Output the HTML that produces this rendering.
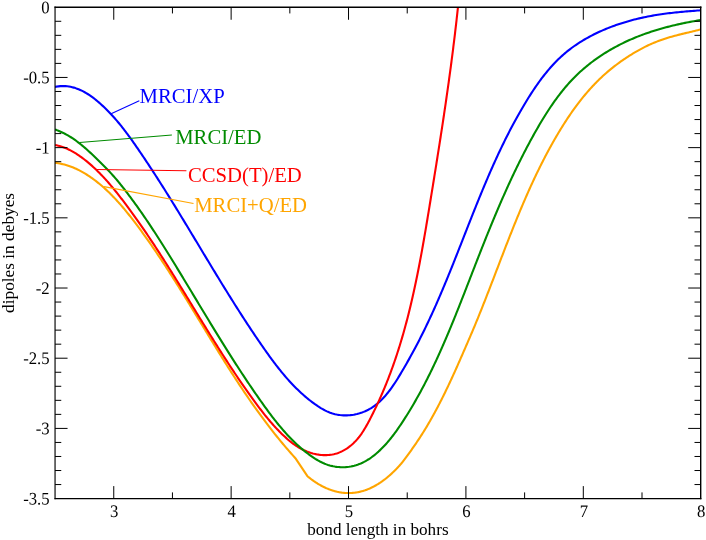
<!DOCTYPE html>
<html><head><meta charset="utf-8"><title>dipoles</title>
<style>
html,body{margin:0;padding:0;background:#fff;}
body{width:706px;height:540px;overflow:hidden;font-family:"Liberation Serif",serif;}
svg{display:block;will-change:transform;}
text{font-family:"Liberation Serif",serif;}
</style></head><body>
<svg width="706" height="540" viewBox="0 0 706 540">
<rect x="0" y="0" width="706" height="540" fill="#fff"/>
<defs><clipPath id="c"><rect x="55.05" y="7.25" width="645.6500000000001" height="491.35"/></clipPath></defs>
<g clip-path="url(#c)" fill="none" stroke-width="2.1" stroke-linejoin="round" stroke-linecap="butt">
<path stroke="#ffa500" d="M55.05,162.89 L56.65,163.08 L58.24,163.30 L59.81,163.57 L61.37,163.87 L62.91,164.21 L64.44,164.59 L65.95,165.00 L67.45,165.45 L68.93,165.93 L70.40,166.45 L71.85,166.99 L73.29,167.57 L74.71,168.18 L76.12,168.81 L77.52,169.47 L78.90,170.15 L80.27,170.87 L81.62,171.60 L82.97,172.36 L84.30,173.14 L85.62,173.93 L86.92,174.75 L88.22,175.59 L89.50,176.44 L90.77,177.31 L92.03,178.19 L93.28,179.09 L94.51,180.01 L95.74,180.94 L96.95,181.88 L98.16,182.84 L99.35,183.81 L100.54,184.79 L101.71,185.79 L102.87,186.79 L104.03,187.82 L105.17,188.85 L106.31,189.89 L107.43,190.95 L108.55,192.02 L109.66,193.10 L110.76,194.19 L111.85,195.28 L112.94,196.39 L114.01,197.51 L115.08,198.64 L116.14,199.78 L117.19,200.92 L118.24,202.08 L119.28,203.24 L120.31,204.41 L121.33,205.58 L122.35,206.77 L123.36,207.96 L124.37,209.16 L125.37,210.36 L126.36,211.57 L127.35,212.79 L128.33,214.01 L129.31,215.23 L130.28,216.46 L131.25,217.70 L132.21,218.94 L133.17,220.18 L134.13,221.43 L135.08,222.68 L136.02,223.93 L136.96,225.18 L137.90,226.44 L138.84,227.70 L139.77,228.96 L140.70,230.22 L141.62,231.49 L142.55,232.76 L143.46,234.03 L144.38,235.30 L145.29,236.57 L146.20,237.84 L147.11,239.12 L148.01,240.40 L148.91,241.68 L149.81,242.96 L150.70,244.24 L151.60,245.52 L152.49,246.81 L153.37,248.10 L154.26,249.39 L155.14,250.68 L156.02,251.97 L156.89,253.26 L157.77,254.56 L158.64,255.85 L159.51,257.15 L160.37,258.45 L161.24,259.75 L162.10,261.05 L162.96,262.36 L163.82,263.66 L164.68,264.97 L165.53,266.27 L166.38,267.58 L167.23,268.89 L168.08,270.20 L168.92,271.51 L169.77,272.82 L170.61,274.13 L171.45,275.45 L172.29,276.76 L173.13,278.08 L173.96,279.39 L174.80,280.71 L175.63,282.03 L176.46,283.35 L177.29,284.67 L178.12,285.99 L178.95,287.31 L179.77,288.63 L180.60,289.95 L181.42,291.28 L182.24,292.60 L183.06,293.92 L183.88,295.25 L184.70,296.57 L185.52,297.90 L186.34,299.23 L187.15,300.55 L187.97,301.88 L188.78,303.21 L189.60,304.54 L190.41,305.86 L191.22,307.19 L192.04,308.52 L192.85,309.85 L193.66,311.18 L194.47,312.51 L195.28,313.84 L196.09,315.17 L196.90,316.50 L197.71,317.83 L198.52,319.16 L199.32,320.49 L200.13,321.82 L200.94,323.15 L201.75,324.48 L202.56,325.81 L203.37,327.14 L204.17,328.47 L204.98,329.80 L205.79,331.13 L206.60,332.45 L207.41,333.78 L208.22,335.11 L209.03,336.44 L209.84,337.77 L210.65,339.09 L211.46,340.42 L212.27,341.75 L213.09,343.07 L213.90,344.40 L214.71,345.72 L215.53,347.05 L216.34,348.37 L217.16,349.69 L217.97,351.02 L218.79,352.34 L219.61,353.66 L220.43,354.98 L221.25,356.30 L222.07,357.62 L222.90,358.94 L223.72,360.26 L224.55,361.57 L225.37,362.89 L226.20,364.20 L227.03,365.52 L227.86,366.83 L228.69,368.14 L229.53,369.45 L230.36,370.76 L231.20,372.07 L232.04,373.38 L232.88,374.68 L233.72,375.99 L234.56,377.29 L235.41,378.60 L236.25,379.90 L237.10,381.20 L237.95,382.50 L238.81,383.80 L239.66,385.09 L240.52,386.39 L241.38,387.68 L242.24,388.97 L243.10,390.26 L243.97,391.55 L244.84,392.84 L245.71,394.13 L246.58,395.41 L247.46,396.69 L248.34,397.98 L249.22,399.25 L250.10,400.53 L250.99,401.81 L251.87,403.08 L252.77,404.36 L253.66,405.63 L254.56,406.90 L255.46,408.16 L256.36,409.43 L257.26,410.69 L258.17,411.95 L259.08,413.21 L260.00,414.47 L260.92,415.73 L261.84,416.98 L262.76,418.23 L263.69,419.48 L264.62,420.73 L265.55,421.97 L266.49,423.21 L267.43,424.45 L268.38,425.69 L269.32,426.93 L270.28,428.16 L271.23,429.39 L272.19,430.62 L273.15,431.85 L274.12,433.07 L275.09,434.30 L276.06,435.51 L277.04,436.73 L278.02,437.95 L279.01,439.16 L280.00,440.37 L280.99,441.57 L281.99,442.78 L282.99,443.98 L284.00,445.18 L285.01,446.37 L286.03,447.56 L287.05,448.75 L288.07,449.94 L289.10,451.13 L290.13,452.31 L291.17,453.49 L292.21,454.66 L293.26,455.83 L294.31,457.00 L295.37,458.17 L307.41,476.17 L307.82,476.51 L308.22,476.85 L308.64,477.19 L309.05,477.53 L309.47,477.87 L309.89,478.20 L310.32,478.53 L310.75,478.87 L311.18,479.19 L311.62,479.52 L312.05,479.84 L312.49,480.16 L312.94,480.48 L313.38,480.80 L313.83,481.11 L314.29,481.42 L314.74,481.73 L315.20,482.04 L315.66,482.34 L316.12,482.64 L316.59,482.94 L317.05,483.23 L317.52,483.52 L318.00,483.81 L318.47,484.10 L318.95,484.38 L319.43,484.66 L319.91,484.93 L320.40,485.20 L320.88,485.47 L321.37,485.74 L321.86,486.00 L322.36,486.25 L322.85,486.51 L323.35,486.76 L323.85,487.00 L324.35,487.24 L324.85,487.48 L325.36,487.72 L325.86,487.95 L326.37,488.17 L326.88,488.39 L327.39,488.61 L327.91,488.82 L328.42,489.03 L328.94,489.23 L329.45,489.43 L329.97,489.63 L330.49,489.82 L331.01,490.00 L331.54,490.18 L332.06,490.36 L332.59,490.53 L333.11,490.69 L333.64,490.85 L334.17,491.01 L334.70,491.16 L335.23,491.30 L335.76,491.44 L336.30,491.57 L336.83,491.70 L337.37,491.83 L337.90,491.94 L338.44,492.05 L338.97,492.16 L339.51,492.26 L340.05,492.35 L340.59,492.44 L341.13,492.53 L341.67,492.60 L342.21,492.67 L342.75,492.74 L343.29,492.80 L343.83,492.85 L344.37,492.90 L344.91,492.94 L345.46,492.97 L346.00,493.00 L346.54,493.03 L347.08,493.05 L347.62,493.06 L348.17,493.06 L348.71,493.06 L349.25,493.06 L349.79,493.05 L350.33,493.03 L350.87,493.01 L351.41,492.98 L351.95,492.95 L352.49,492.91 L353.03,492.86 L353.57,492.81 L354.11,492.76 L354.64,492.69 L355.18,492.62 L355.72,492.55 L356.25,492.47 L356.79,492.39 L357.32,492.29 L357.85,492.20 L358.38,492.10 L358.91,491.99 L359.44,491.87 L359.97,491.76 L360.49,491.63 L361.02,491.50 L361.54,491.36 L362.06,491.22 L362.59,491.08 L363.10,490.92 L363.62,490.77 L364.14,490.60 L364.65,490.43 L365.17,490.26 L365.68,490.08 L366.19,489.90 L366.70,489.71 L367.21,489.51 L367.71,489.31 L368.22,489.11 L368.72,488.90 L369.22,488.68 L369.72,488.47 L370.22,488.24 L370.72,488.01 L371.21,487.78 L371.71,487.54 L372.20,487.30 L372.69,487.06 L373.18,486.81 L373.66,486.55 L374.15,486.29 L374.63,486.03 L375.11,485.76 L375.59,485.49 L376.07,485.22 L376.55,484.94 L377.02,484.66 L377.49,484.37 L377.96,484.08 L378.43,483.79 L378.90,483.49 L379.36,483.19 L379.83,482.89 L380.29,482.58 L380.75,482.27 L381.21,481.96 L381.66,481.64 L382.12,481.32 L382.57,481.00 L383.02,480.67 L383.47,480.34 L383.91,480.01 L384.36,479.67 L384.80,479.34 L385.24,479.00 L385.67,478.65 L386.11,478.31 L386.54,477.96 L386.98,477.61 L387.40,477.26 L387.83,476.90 L388.26,476.54 L388.68,476.18 L389.10,475.82 L389.52,475.46 L389.94,475.09 L390.35,474.72 L390.76,474.35 L391.17,473.98 L391.58,473.61 L391.99,473.23 L392.39,472.85 L392.79,472.48 L393.19,472.10 L393.59,471.71 L393.98,471.33 L394.37,470.95 L394.76,470.56 L395.15,470.17 L395.53,469.79 L395.91,469.40 L396.29,469.01 L396.67,468.61 L397.05,468.22 L397.42,467.83 L397.79,467.44 L398.16,467.04 L398.52,466.65 L398.88,466.25 L399.25,465.85 L399.60,465.46 L399.96,465.06 L400.31,464.66 L400.66,464.26 L401.01,463.86 L401.35,463.46 L401.70,463.07 L402.04,462.67 L402.08,462.69 L403.02,461.44 L403.96,460.18 L404.90,458.92 L405.84,457.66 L406.77,456.39 L407.70,455.12 L408.62,453.85 L409.54,452.57 L410.46,451.30 L411.38,450.02 L412.29,448.73 L413.19,447.44 L414.09,446.15 L414.99,444.86 L415.88,443.56 L416.76,442.26 L417.64,440.95 L418.51,439.65 L419.38,438.33 L420.23,437.02 L421.09,435.69 L421.93,434.37 L422.77,433.04 L423.60,431.71 L424.43,430.37 L425.25,429.03 L426.06,427.69 L426.87,426.34 L427.67,424.99 L428.47,423.64 L429.26,422.28 L430.04,420.92 L430.82,419.56 L431.59,418.20 L432.36,416.83 L433.13,415.45 L433.88,414.08 L434.64,412.70 L435.39,411.32 L436.13,409.94 L436.87,408.55 L437.60,407.16 L438.33,405.77 L439.06,404.38 L439.78,402.99 L440.49,401.59 L441.21,400.19 L441.91,398.79 L442.62,397.38 L443.32,395.97 L444.01,394.57 L444.71,393.16 L445.40,391.74 L446.08,390.33 L446.76,388.91 L447.44,387.50 L448.12,386.08 L448.79,384.66 L449.46,383.23 L450.13,381.81 L450.79,380.39 L451.45,378.96 L452.11,377.53 L452.76,376.10 L453.42,374.67 L454.07,373.24 L454.72,371.81 L455.36,370.38 L456.01,368.95 L456.65,367.51 L457.29,366.08 L457.93,364.64 L458.56,363.20 L459.20,361.77 L459.83,360.33 L460.46,358.89 L461.09,357.45 L461.72,356.02 L462.35,354.58 L462.98,353.14 L463.60,351.70 L464.23,350.26 L464.85,348.82 L465.48,347.38 L466.10,345.94 L466.72,344.51 L467.35,343.07 L467.97,341.63 L468.59,340.19 L469.21,338.75 L469.83,337.32 L470.45,335.88 L471.07,334.44 L471.68,333.00 L472.29,331.56 L472.90,330.12 L473.51,328.67 L474.12,327.23 L474.72,325.78 L475.32,324.34 L475.92,322.89 L476.52,321.44 L477.12,319.99 L477.71,318.53 L478.30,317.08 L478.89,315.63 L479.48,314.17 L480.07,312.72 L480.66,311.26 L481.24,309.80 L481.82,308.34 L482.41,306.89 L482.99,305.43 L483.56,303.96 L484.14,302.50 L484.72,301.04 L485.29,299.58 L485.87,298.11 L486.44,296.65 L487.01,295.19 L487.58,293.72 L488.16,292.25 L488.72,290.79 L489.29,289.32 L489.86,287.85 L490.43,286.39 L491.00,284.92 L491.56,283.45 L492.13,281.98 L492.69,280.51 L493.26,279.04 L493.82,277.57 L494.39,276.10 L494.95,274.63 L495.51,273.16 L496.08,271.69 L496.64,270.22 L497.21,268.75 L497.77,267.28 L498.33,265.81 L498.90,264.34 L499.46,262.86 L500.03,261.39 L500.59,259.92 L501.16,258.45 L501.72,256.98 L502.29,255.51 L502.85,254.04 L503.42,252.57 L503.99,251.10 L504.56,249.63 L505.12,248.16 L505.69,246.70 L506.26,245.23 L506.84,243.76 L507.41,242.29 L507.98,240.82 L508.56,239.36 L509.13,237.89 L509.71,236.43 L510.29,234.96 L510.86,233.50 L511.45,232.03 L512.03,230.57 L512.61,229.11 L513.19,227.65 L513.78,226.18 L514.37,224.72 L514.96,223.27 L515.55,221.81 L516.14,220.35 L516.74,218.89 L517.33,217.44 L517.93,215.98 L518.53,214.53 L519.13,213.07 L519.74,211.62 L520.34,210.17 L520.95,208.72 L521.56,207.27 L522.17,205.82 L522.79,204.38 L523.41,202.93 L524.03,201.49 L524.65,200.05 L525.28,198.60 L525.90,197.16 L526.53,195.73 L527.17,194.29 L527.80,192.85 L528.44,191.42 L529.08,189.98 L529.73,188.55 L530.37,187.12 L531.02,185.69 L531.68,184.27 L532.33,182.84 L532.99,181.42 L533.65,179.99 L534.32,178.57 L534.99,177.15 L535.66,175.74 L536.34,174.32 L537.02,172.91 L537.70,171.50 L538.39,170.09 L539.08,168.68 L539.77,167.27 L540.47,165.87 L541.17,164.46 L541.88,163.06 L542.59,161.67 L543.30,160.27 L544.02,158.87 L544.74,157.48 L545.46,156.09 L546.19,154.70 L546.93,153.32 L547.66,151.94 L548.41,150.55 L549.15,149.18 L549.90,147.80 L550.66,146.42 L551.42,145.05 L552.19,143.68 L552.96,142.32 L553.73,140.95 L554.51,139.59 L555.29,138.23 L556.08,136.87 L556.87,135.52 L557.67,134.17 L558.48,132.82 L559.29,131.47 L560.10,130.13 L560.92,128.79 L561.74,127.45 L562.57,126.11 L563.41,124.78 L564.25,123.46 L565.10,122.13 L565.95,120.81 L566.81,119.50 L567.68,118.19 L568.55,116.88 L569.43,115.58 L570.32,114.28 L571.21,112.99 L572.11,111.70 L573.01,110.42 L573.93,109.14 L574.85,107.87 L575.77,106.60 L576.71,105.34 L577.65,104.09 L578.60,102.84 L579.56,101.60 L580.52,100.36 L581.49,99.13 L582.47,97.91 L583.46,96.69 L584.46,95.48 L585.47,94.28 L586.48,93.08 L587.50,91.89 L588.53,90.71 L589.57,89.54 L590.62,88.37 L591.68,87.21 L592.75,86.06 L593.82,84.92 L594.91,83.79 L596.00,82.66 L597.11,81.55 L598.22,80.44 L599.34,79.34 L600.48,78.25 L601.62,77.17 L602.77,76.10 L603.94,75.04 L605.11,73.98 L606.29,72.94 L607.49,71.91 L608.69,70.89 L609.91,69.87 L611.13,68.87 L612.36,67.88 L613.60,66.90 L614.85,65.93 L616.11,64.96 L617.38,64.01 L618.65,63.07 L619.93,62.14 L621.22,61.22 L622.51,60.32 L623.82,59.42 L625.12,58.53 L626.44,57.66 L627.76,56.79 L629.08,55.94 L630.41,55.10 L631.74,54.27 L633.09,53.45 L634.43,52.65 L635.78,51.86 L637.14,51.08 L638.51,50.31 L639.88,49.55 L641.25,48.81 L642.64,48.09 L644.03,47.37 L645.42,46.67 L646.82,45.99 L648.23,45.32 L649.65,44.66 L651.07,44.02 L652.50,43.39 L653.94,42.78 L655.38,42.19 L656.83,41.61 L658.29,41.04 L659.75,40.50 L661.22,39.96 L662.70,39.45 L664.19,38.95 L665.68,38.46 L667.18,37.99 L668.69,37.53 L670.20,37.09 L671.71,36.65 L673.23,36.23 L674.75,35.82 L676.28,35.42 L677.81,35.02 L679.34,34.63 L680.87,34.25 L682.41,33.88 L683.94,33.51 L685.48,33.14 L687.01,32.78 L688.55,32.42 L690.08,32.05 L691.61,31.69 L693.14,31.33 L694.67,30.96 L696.19,30.60 L697.71,30.22 L699.22,29.84 L700.73,29.46"/>
<path stroke="#0000ff" d="M54.93,86.93 L56.74,86.59 L58.53,86.33 L60.30,86.16 L62.06,86.08 L63.79,86.08 L65.51,86.15 L67.21,86.30 L68.89,86.53 L70.55,86.83 L72.20,87.19 L73.82,87.62 L75.43,88.12 L77.02,88.67 L78.60,89.28 L80.15,89.95 L81.69,90.66 L83.22,91.43 L84.72,92.25 L86.21,93.10 L87.68,94.00 L89.13,94.94 L90.56,95.91 L91.98,96.92 L93.38,97.96 L94.77,99.03 L96.13,100.12 L97.48,101.23 L98.82,102.36 L100.13,103.51 L101.44,104.68 L102.72,105.86 L103.99,107.05 L105.24,108.25 L106.48,109.47 L107.70,110.69 L108.91,111.93 L110.10,113.18 L111.28,114.44 L112.45,115.71 L113.61,116.99 L114.75,118.28 L115.88,119.58 L117.00,120.89 L118.11,122.21 L119.21,123.54 L120.30,124.87 L121.38,126.21 L122.44,127.56 L123.50,128.92 L124.56,130.28 L125.60,131.65 L126.64,133.02 L127.66,134.40 L128.69,135.79 L129.70,137.18 L130.71,138.58 L131.71,139.98 L132.71,141.38 L133.71,142.79 L134.69,144.20 L135.68,145.61 L136.66,147.03 L137.64,148.45 L138.61,149.87 L139.59,151.29 L140.56,152.72 L141.53,154.14 L142.49,155.57 L143.45,157.00 L144.42,158.43 L145.37,159.86 L146.33,161.30 L147.28,162.73 L148.24,164.17 L149.18,165.61 L150.13,167.05 L151.08,168.49 L152.02,169.93 L152.96,171.38 L153.90,172.82 L154.84,174.27 L155.77,175.72 L156.71,177.17 L157.64,178.62 L158.57,180.07 L159.50,181.53 L160.42,182.98 L161.35,184.44 L162.27,185.89 L163.19,187.35 L164.11,188.81 L165.03,190.27 L165.95,191.73 L166.87,193.19 L167.78,194.66 L168.69,196.12 L169.61,197.59 L170.52,199.05 L171.43,200.52 L172.33,201.99 L173.24,203.46 L174.15,204.92 L175.05,206.39 L175.96,207.87 L176.86,209.34 L177.76,210.81 L178.66,212.28 L179.56,213.75 L180.46,215.23 L181.36,216.70 L182.26,218.18 L183.15,219.65 L184.05,221.13 L184.94,222.61 L185.84,224.08 L186.73,225.56 L187.63,227.04 L188.52,228.52 L189.41,230.00 L190.31,231.47 L191.20,232.95 L192.09,234.43 L192.98,235.91 L193.87,237.39 L194.76,238.87 L195.66,240.35 L196.55,241.83 L197.44,243.31 L198.33,244.79 L199.22,246.27 L200.11,247.75 L201.00,249.23 L201.89,250.71 L202.78,252.19 L203.67,253.67 L204.56,255.15 L205.46,256.63 L206.35,258.11 L207.24,259.59 L208.13,261.07 L209.03,262.55 L209.92,264.03 L210.81,265.50 L211.71,266.98 L212.60,268.46 L213.50,269.94 L214.40,271.41 L215.29,272.89 L216.19,274.36 L217.09,275.84 L217.99,277.31 L218.89,278.79 L219.79,280.26 L220.69,281.73 L221.59,283.20 L222.50,284.68 L223.40,286.15 L224.31,287.62 L225.22,289.09 L226.13,290.55 L227.04,292.02 L227.95,293.49 L228.86,294.95 L229.77,296.42 L230.69,297.88 L231.60,299.35 L232.52,300.81 L233.44,302.27 L234.36,303.73 L235.28,305.19 L236.21,306.65 L237.13,308.10 L238.06,309.56 L238.99,311.02 L239.92,312.47 L240.85,313.92 L241.78,315.37 L242.72,316.82 L243.66,318.27 L244.60,319.72 L245.54,321.16 L246.48,322.61 L247.43,324.05 L248.38,325.49 L249.33,326.93 L250.28,328.37 L251.23,329.81 L252.19,331.24 L253.15,332.68 L254.11,334.11 L255.07,335.54 L256.04,336.97 L257.01,338.40 L257.98,339.82 L258.95,341.25 L259.93,342.67 L260.91,344.09 L261.89,345.51 L262.87,346.93 L263.86,348.34 L264.85,349.75 L265.85,351.16 L266.84,352.57 L267.85,353.97 L268.85,355.37 L269.86,356.77 L270.88,358.16 L271.90,359.55 L272.93,360.93 L273.96,362.31 L275.00,363.69 L276.05,365.05 L277.10,366.42 L278.16,367.77 L279.23,369.12 L280.31,370.46 L281.39,371.80 L282.49,373.13 L283.59,374.45 L284.70,375.76 L285.82,377.07 L286.95,378.37 L288.09,379.65 L289.24,380.93 L290.41,382.20 L291.58,383.46 L292.76,384.71 L293.96,385.95 L295.17,387.18 L296.39,388.40 L297.62,389.61 L298.87,390.81 L300.13,392.00 L301.40,393.17 L302.69,394.33 L303.99,395.48 L305.30,396.62 L306.63,397.74 L307.98,398.85 L309.34,399.95 L310.72,401.03 L312.11,402.10 L313.52,403.15 L314.94,404.19 L316.39,405.20 L317.84,406.19 L319.32,407.14 L320.81,408.07 L322.32,408.95 L323.85,409.79 L325.40,410.59 L326.96,411.34 L328.54,412.03 L330.14,412.66 L331.75,413.23 L333.39,413.74 L335.04,414.18 L336.71,414.55 L338.39,414.85 L340.08,415.08 L341.78,415.25 L343.49,415.36 L345.20,415.40 L346.91,415.38 L348.62,415.29 L350.33,415.15 L352.03,414.94 L353.73,414.67 L355.41,414.35 L357.09,413.96 L358.75,413.52 L360.39,413.03 L362.01,412.47 L363.61,411.87 L365.19,411.21 L366.74,410.49 L368.27,409.73 L369.76,408.91 L371.22,408.04 L372.65,407.13 L374.05,406.17 L375.41,405.16 L376.75,404.11 L378.06,403.02 L379.34,401.89 L380.59,400.72 L381.82,399.52 L383.02,398.28 L384.20,397.01 L385.36,395.72 L386.49,394.39 L387.60,393.03 L388.70,391.65 L389.77,390.25 L390.82,388.83 L391.86,387.39 L392.88,385.93 L393.88,384.46 L394.87,382.97 L395.85,381.47 L396.81,379.96 L397.76,378.44 L398.70,376.92 L399.62,375.39 L400.54,373.85 L401.45,372.32 L402.36,370.79 L403.25,369.26 L404.14,367.73 L405.02,366.21 L405.90,364.69 L406.77,363.16 L407.63,361.64 L408.49,360.12 L409.34,358.61 L410.18,357.09 L411.02,355.57 L411.85,354.06 L412.68,352.54 L413.50,351.02 L414.32,349.51 L415.13,347.99 L415.93,346.47 L416.73,344.96 L417.53,343.44 L418.32,341.92 L419.10,340.40 L419.88,338.87 L420.66,337.35 L421.43,335.82 L422.19,334.29 L422.96,332.76 L423.71,331.22 L424.47,329.69 L425.22,328.15 L425.96,326.61 L426.70,325.06 L427.44,323.52 L428.17,321.97 L428.90,320.42 L429.63,318.87 L430.35,317.31 L431.07,315.76 L431.79,314.20 L432.50,312.64 L433.21,311.08 L433.91,309.51 L434.61,307.95 L435.31,306.38 L436.01,304.81 L436.70,303.24 L437.39,301.67 L438.08,300.09 L438.76,298.52 L439.45,296.94 L440.12,295.36 L440.80,293.78 L441.48,292.20 L442.15,290.62 L442.82,289.03 L443.48,287.45 L444.15,285.86 L444.81,284.27 L445.47,282.68 L446.13,281.09 L446.79,279.50 L447.44,277.91 L448.09,276.31 L448.74,274.72 L449.39,273.12 L450.04,271.53 L450.69,269.93 L451.33,268.33 L451.98,266.73 L452.62,265.13 L453.26,263.53 L453.90,261.93 L454.54,260.32 L455.18,258.72 L455.81,257.12 L456.45,255.51 L457.09,253.91 L457.72,252.30 L458.35,250.70 L458.99,249.09 L459.62,247.48 L460.25,245.87 L460.89,244.27 L461.52,242.66 L462.15,241.05 L462.78,239.44 L463.41,237.83 L464.04,236.23 L464.67,234.62 L465.31,233.01 L465.94,231.40 L466.57,229.79 L467.20,228.18 L467.84,226.57 L468.47,224.97 L469.10,223.36 L469.74,221.75 L470.37,220.14 L471.01,218.53 L471.65,216.93 L472.28,215.32 L472.92,213.71 L473.56,212.11 L474.20,210.50 L474.85,208.90 L475.49,207.29 L476.14,205.69 L476.78,204.08 L477.43,202.48 L478.08,200.88 L478.73,199.28 L479.38,197.68 L480.04,196.08 L480.70,194.48 L481.35,192.88 L482.01,191.28 L482.68,189.69 L483.34,188.09 L484.01,186.50 L484.68,184.90 L485.35,183.31 L486.02,181.72 L486.70,180.13 L487.38,178.54 L488.06,176.95 L488.75,175.37 L489.43,173.78 L490.12,172.20 L490.82,170.62 L491.51,169.04 L492.21,167.46 L492.91,165.88 L493.62,164.30 L494.33,162.73 L495.04,161.16 L495.76,159.59 L496.47,158.02 L497.20,156.45 L497.92,154.88 L498.65,153.32 L499.39,151.76 L500.12,150.20 L500.87,148.64 L501.61,147.08 L502.36,145.53 L503.12,143.97 L503.87,142.42 L504.64,140.87 L505.40,139.33 L506.17,137.78 L506.95,136.24 L507.73,134.70 L508.51,133.16 L509.30,131.63 L510.10,130.10 L510.90,128.57 L511.70,127.04 L512.51,125.51 L513.32,123.99 L514.14,122.47 L514.97,120.95 L515.80,119.44 L516.63,117.92 L517.47,116.41 L518.32,114.91 L519.17,113.40 L520.03,111.90 L520.89,110.40 L521.76,108.91 L522.64,107.41 L523.52,105.92 L524.40,104.44 L525.30,102.95 L526.19,101.47 L527.10,100.00 L528.01,98.52 L528.93,97.05 L529.86,95.59 L530.79,94.12 L531.73,92.67 L532.68,91.22 L533.63,89.77 L534.60,88.34 L535.57,86.90 L536.55,85.48 L537.55,84.06 L538.55,82.65 L539.56,81.25 L540.58,79.86 L541.61,78.48 L542.65,77.11 L543.71,75.74 L544.77,74.39 L545.85,73.05 L546.93,71.72 L548.03,70.40 L549.15,69.09 L550.27,67.79 L551.41,66.51 L552.56,65.24 L553.72,63.98 L554.90,62.74 L556.09,61.51 L557.30,60.30 L558.52,59.10 L559.75,57.92 L561.00,56.75 L562.27,55.60 L563.55,54.47 L564.84,53.35 L566.16,52.25 L567.48,51.17 L568.83,50.11 L570.19,49.06 L571.56,48.03 L572.95,47.02 L574.35,46.02 L575.76,45.04 L577.19,44.08 L578.63,43.13 L580.09,42.20 L581.55,41.29 L583.03,40.39 L584.52,39.51 L586.01,38.64 L587.52,37.79 L589.04,36.96 L590.57,36.14 L592.11,35.34 L593.66,34.55 L595.21,33.78 L596.78,33.02 L598.35,32.28 L599.93,31.56 L601.52,30.85 L603.11,30.15 L604.71,29.47 L606.31,28.80 L607.93,28.15 L609.54,27.51 L611.16,26.89 L612.79,26.28 L614.42,25.69 L616.05,25.11 L617.69,24.54 L619.33,23.99 L620.97,23.45 L622.62,22.92 L624.26,22.41 L625.92,21.91 L627.57,21.43 L629.23,20.95 L630.88,20.49 L632.55,20.05 L634.21,19.61 L635.88,19.19 L637.55,18.78 L639.22,18.38 L640.90,18.00 L642.58,17.63 L644.26,17.26 L645.94,16.91 L647.62,16.58 L649.31,16.25 L651.00,15.93 L652.70,15.63 L654.39,15.33 L656.09,15.05 L657.79,14.77 L659.49,14.51 L661.19,14.26 L662.90,14.01 L664.61,13.78 L666.32,13.55 L668.03,13.33 L669.74,13.13 L671.46,12.92 L673.17,12.73 L674.89,12.54 L676.61,12.36 L678.33,12.19 L680.05,12.02 L681.77,11.86 L683.49,11.70 L685.21,11.54 L686.93,11.39 L688.66,11.25 L690.38,11.11 L692.10,10.97 L693.82,10.83 L695.54,10.70 L697.26,10.57 L698.98,10.44 L700.70,10.31"/>
<path stroke="#ff0000" d="M55.09,145.03 L56.61,145.32 L58.11,145.67 L59.59,146.06 L61.06,146.49 L62.52,146.97 L63.95,147.49 L65.38,148.05 L66.78,148.64 L68.17,149.27 L69.55,149.94 L70.91,150.64 L72.26,151.36 L73.59,152.12 L74.91,152.91 L76.22,153.72 L77.51,154.55 L78.79,155.41 L80.06,156.29 L81.31,157.19 L82.55,158.10 L83.78,159.03 L84.99,159.98 L86.20,160.94 L87.39,161.91 L88.57,162.89 L89.74,163.88 L90.90,164.89 L92.05,165.91 L93.18,166.94 L94.31,167.97 L95.43,169.02 L96.53,170.08 L97.63,171.15 L98.72,172.23 L99.80,173.32 L100.87,174.41 L101.93,175.52 L102.98,176.63 L104.03,177.76 L105.06,178.89 L106.09,180.02 L107.11,181.17 L108.13,182.32 L109.14,183.48 L110.14,184.64 L111.13,185.81 L112.12,186.99 L113.10,188.17 L114.08,189.36 L115.05,190.55 L116.02,191.75 L116.98,192.95 L117.93,194.15 L118.88,195.36 L119.83,196.57 L120.77,197.79 L121.71,199.01 L122.65,200.23 L123.58,201.45 L124.51,202.68 L125.44,203.91 L126.36,205.14 L127.28,206.37 L128.20,207.60 L129.11,208.84 L130.02,210.08 L130.93,211.32 L131.84,212.56 L132.74,213.80 L133.64,215.05 L134.54,216.30 L135.43,217.55 L136.32,218.80 L137.21,220.05 L138.10,221.31 L138.98,222.56 L139.87,223.82 L140.75,225.08 L141.62,226.35 L142.50,227.61 L143.37,228.87 L144.24,230.14 L145.11,231.41 L145.97,232.68 L146.83,233.95 L147.70,235.22 L148.55,236.50 L149.41,237.77 L150.27,239.05 L151.12,240.33 L151.97,241.61 L152.82,242.89 L153.67,244.17 L154.51,245.45 L155.35,246.74 L156.20,248.02 L157.04,249.31 L157.87,250.60 L158.71,251.89 L159.54,253.18 L160.38,254.47 L161.21,255.76 L162.04,257.06 L162.87,258.35 L163.70,259.65 L164.52,260.94 L165.35,262.24 L166.17,263.54 L166.99,264.84 L167.81,266.14 L168.63,267.44 L169.45,268.74 L170.27,270.04 L171.09,271.35 L171.90,272.65 L172.72,273.95 L173.53,275.26 L174.34,276.56 L175.15,277.87 L175.96,279.18 L176.77,280.48 L177.58,281.79 L178.39,283.10 L179.20,284.41 L180.01,285.72 L180.81,287.03 L181.62,288.34 L182.43,289.65 L183.23,290.96 L184.03,292.27 L184.84,293.58 L185.64,294.89 L186.45,296.20 L187.25,297.51 L188.05,298.82 L188.85,300.14 L189.66,301.45 L190.46,302.76 L191.26,304.07 L192.06,305.38 L192.87,306.70 L193.67,308.01 L194.47,309.32 L195.27,310.63 L196.08,311.94 L196.88,313.26 L197.68,314.57 L198.48,315.88 L199.29,317.19 L200.09,318.50 L200.89,319.81 L201.70,321.12 L202.50,322.43 L203.31,323.74 L204.12,325.05 L204.92,326.36 L205.73,327.67 L206.54,328.97 L207.34,330.28 L208.15,331.59 L208.96,332.90 L209.77,334.20 L210.59,335.51 L211.40,336.81 L212.21,338.11 L213.02,339.42 L213.84,340.72 L214.66,342.02 L215.47,343.32 L216.29,344.62 L217.11,345.92 L217.93,347.22 L218.75,348.52 L219.58,349.82 L220.40,351.11 L221.23,352.41 L222.05,353.70 L222.88,354.99 L223.71,356.28 L224.54,357.58 L225.37,358.87 L226.21,360.15 L227.04,361.44 L227.88,362.73 L228.72,364.01 L229.56,365.30 L230.40,366.58 L231.25,367.86 L232.10,369.14 L232.94,370.42 L233.79,371.70 L234.65,372.97 L235.50,374.25 L236.36,375.52 L237.21,376.79 L238.07,378.06 L238.94,379.33 L239.80,380.60 L240.67,381.86 L241.54,383.13 L242.41,384.39 L243.28,385.65 L244.16,386.91 L245.04,388.17 L245.92,389.42 L246.80,390.68 L247.69,391.93 L248.57,393.18 L249.47,394.43 L250.36,395.68 L251.26,396.92 L252.15,398.16 L253.06,399.40 L253.96,400.64 L254.87,401.88 L255.78,403.12 L256.69,404.35 L257.61,405.58 L258.53,406.81 L259.45,408.03 L260.38,409.25 L261.32,410.47 L262.26,411.68 L263.20,412.89 L264.15,414.10 L265.11,415.30 L266.07,416.49 L267.05,417.68 L268.02,418.87 L269.01,420.04 L270.00,421.22 L271.00,422.38 L272.01,423.54 L273.03,424.70 L274.06,425.84 L275.10,426.98 L276.14,428.11 L277.20,429.23 L278.27,430.35 L279.35,431.45 L280.44,432.55 L281.54,433.64 L282.65,434.72 L283.78,435.79 L284.92,436.85 L286.07,437.90 L287.23,438.93 L288.41,439.94 L289.61,440.94 L290.82,441.92 L292.05,442.88 L293.30,443.81 L294.56,444.72 L295.85,445.60 L297.15,446.45 L298.48,447.27 L299.82,448.05 L301.19,448.80 L302.58,449.52 L303.99,450.20 L305.41,450.83 L306.86,451.43 L308.32,451.99 L309.79,452.51 L311.27,452.98 L312.77,453.41 L314.27,453.79 L315.79,454.13 L317.30,454.42 L318.82,454.66 L320.34,454.85 L321.87,454.99 L323.39,455.08 L324.91,455.12 L326.42,455.10 L327.93,455.03 L329.43,454.91 L330.92,454.72 L332.40,454.48 L333.86,454.18 L335.32,453.82 L336.75,453.40 L338.17,452.92 L339.57,452.38 L340.95,451.78 L342.31,451.13 L343.65,450.43 L344.97,449.68 L346.26,448.88 L347.53,448.03 L348.77,447.14 L349.99,446.21 L351.18,445.24 L352.34,444.23 L353.48,443.18 L354.58,442.11 L355.65,441.00 L356.69,439.86 L357.70,438.69 L358.67,437.50 L359.62,436.28 L360.54,435.05 L361.44,433.79 L362.31,432.51 L363.16,431.21 L363.99,429.90 L364.80,428.57 L365.59,427.23 L366.36,425.88 L367.13,424.52 L367.88,423.15 L368.62,421.77 L369.35,420.39 L370.07,419.01 L370.78,417.62 L371.49,416.23 L372.20,414.84 L372.89,413.45 L373.58,412.06 L374.27,410.66 L374.95,409.26 L375.62,407.86 L376.29,406.46 L376.95,405.06 L377.61,403.66 L378.26,402.25 L378.90,400.84 L379.54,399.43 L380.17,398.02 L380.80,396.61 L381.42,395.19 L382.04,393.78 L382.65,392.36 L383.25,390.94 L383.85,389.52 L384.45,388.10 L385.04,386.67 L385.62,385.25 L386.20,383.82 L386.77,382.39 L387.34,380.96 L387.90,379.53 L388.46,378.09 L389.01,376.66 L389.56,375.22 L390.10,373.78 L390.64,372.34 L391.17,370.90 L391.70,369.46 L392.23,368.01 L392.74,366.57 L393.26,365.12 L393.77,363.67 L394.27,362.22 L394.77,360.77 L395.27,359.32 L395.76,357.87 L396.25,356.41 L396.73,354.96 L397.21,353.50 L397.68,352.04 L398.15,350.58 L398.61,349.12 L399.07,347.66 L399.53,346.19 L399.98,344.73 L400.43,343.26 L400.88,341.79 L401.32,340.32 L401.75,338.85 L402.18,337.38 L402.61,335.91 L403.04,334.44 L403.46,332.96 L403.88,331.49 L404.29,330.01 L404.70,328.54 L405.10,327.06 L405.51,325.58 L405.91,324.10 L406.30,322.62 L406.69,321.13 L407.08,319.65 L407.47,318.17 L407.85,316.68 L408.23,315.19 L408.60,313.71 L408.97,312.22 L409.34,310.73 L409.71,309.24 L410.07,307.75 L410.43,306.26 L410.79,304.76 L411.14,303.27 L411.49,301.78 L411.84,300.28 L412.18,298.78 L412.52,297.29 L412.86,295.79 L413.20,294.29 L413.53,292.79 L413.87,291.29 L414.19,289.79 L414.52,288.29 L414.84,286.79 L415.16,285.29 L415.48,283.78 L415.80,282.28 L416.11,280.78 L416.42,279.27 L416.73,277.77 L417.04,276.26 L417.35,274.75 L417.65,273.25 L417.95,271.74 L418.25,270.23 L418.54,268.72 L418.84,267.21 L419.13,265.70 L419.42,264.19 L419.71,262.68 L420.00,261.17 L420.28,259.66 L420.57,258.14 L420.85,256.63 L421.13,255.12 L421.41,253.60 L421.68,252.09 L421.96,250.58 L422.23,249.06 L422.50,247.55 L422.78,246.03 L423.04,244.52 L423.31,243.00 L423.58,241.48 L423.85,239.97 L424.11,238.45 L424.37,236.93 L424.64,235.42 L424.90,233.90 L425.16,232.38 L425.42,230.86 L425.68,229.34 L425.93,227.83 L426.19,226.31 L426.44,224.79 L426.70,223.27 L426.95,221.75 L427.21,220.23 L427.46,218.71 L427.71,217.19 L427.96,215.68 L428.21,214.16 L428.47,212.64 L428.72,211.12 L428.96,209.60 L429.21,208.08 L429.46,206.56 L429.71,205.04 L429.96,203.52 L430.21,202.00 L430.46,200.48 L430.70,198.97 L430.95,197.45 L431.20,195.93 L431.45,194.41 L431.69,192.89 L431.94,191.37 L432.19,189.85 L432.43,188.33 L432.68,186.82 L432.93,185.30 L433.17,183.78 L433.42,182.26 L433.67,180.74 L433.91,179.23 L434.16,177.71 L434.40,176.19 L434.64,174.67 L434.89,173.15 L435.13,171.64 L435.38,170.12 L435.62,168.60 L435.86,167.08 L436.11,165.56 L436.35,164.05 L436.59,162.53 L436.83,161.01 L437.07,159.49 L437.31,157.97 L437.55,156.46 L437.79,154.94 L438.03,153.42 L438.27,151.90 L438.51,150.39 L438.75,148.87 L438.99,147.35 L439.23,145.83 L439.46,144.31 L439.70,142.80 L439.94,141.28 L440.17,139.76 L440.41,138.24 L440.64,136.72 L440.88,135.21 L441.11,133.69 L441.35,132.17 L441.58,130.65 L441.81,129.13 L442.04,127.62 L442.27,126.10 L442.50,124.58 L442.73,123.06 L442.96,121.54 L443.19,120.02 L443.42,118.50 L443.65,116.99 L443.88,115.47 L444.10,113.95 L444.33,112.43 L444.55,110.91 L444.78,109.39 L445.00,107.87 L445.23,106.35 L445.45,104.83 L445.67,103.31 L445.89,101.79 L446.11,100.27 L446.33,98.75 L446.55,97.23 L446.77,95.71 L446.99,94.19 L447.21,92.67 L447.42,91.15 L447.64,89.63 L447.85,88.11 L448.07,86.59 L448.28,85.07 L448.49,83.55 L448.71,82.03 L448.92,80.51 L449.13,78.98 L449.34,77.46 L449.55,75.94 L449.75,74.42 L449.96,72.90 L450.17,71.37 L450.37,69.85 L450.58,68.33 L450.78,66.81 L450.98,65.28 L451.18,63.76 L451.39,62.24 L451.58,60.71 L451.78,59.19 L451.98,57.67 L452.18,56.14 L452.38,54.62 L452.57,53.09 L452.77,51.57 L452.96,50.04 L453.15,48.52 L453.34,46.99 L453.53,45.47 L453.72,43.94 L453.91,42.42 L454.10,40.89 L454.28,39.37 L454.47,37.84 L454.65,36.31 L454.84,34.79 L455.02,33.26 L455.20,31.73 L455.38,30.20 L455.56,28.68 L455.74,27.15 L455.91,25.62 L456.09,24.09 L456.26,22.56 L456.44,21.03 L456.61,19.50 L456.78,17.97 L456.95,16.44 L457.12,14.91 L457.29,13.38 L457.45,11.85 L457.62,10.32 L457.78,8.79 L457.95,7.26 L458.11,5.73 L458.27,4.20 L458.43,2.66 L458.59,1.13 L458.74,-0.40 L458.90,-1.94 L459.05,-3.47 L459.21,-5.00 L459.36,-6.54 L459.51,-8.07"/>
<path stroke="#008b00" d="M54.99,129.50 L56.70,130.11 L58.37,130.76 L60.03,131.45 L61.65,132.17 L63.26,132.93 L64.84,133.73 L66.39,134.57 L67.93,135.43 L69.45,136.33 L70.94,137.25 L72.42,138.21 L73.87,139.19 L75.31,140.20 L76.74,141.23 L78.14,142.29 L79.54,143.37 L80.92,144.46 L82.28,145.58 L83.63,146.72 L84.97,147.87 L86.30,149.04 L87.62,150.22 L88.94,151.41 L90.24,152.61 L91.53,153.83 L92.82,155.05 L94.10,156.28 L95.38,157.51 L96.66,158.75 L97.93,159.99 L99.19,161.23 L100.46,162.48 L101.72,163.72 L102.97,164.98 L104.22,166.23 L105.46,167.49 L106.70,168.76 L107.92,170.03 L109.14,171.31 L110.34,172.60 L111.54,173.90 L112.72,175.21 L113.90,176.52 L115.05,177.85 L116.20,179.19 L117.34,180.53 L118.46,181.89 L119.58,183.25 L120.68,184.62 L121.78,185.99 L122.88,187.37 L123.96,188.76 L125.04,190.15 L126.11,191.55 L127.18,192.95 L128.25,194.35 L129.31,195.76 L130.37,197.17 L131.42,198.59 L132.46,200.01 L133.51,201.43 L134.54,202.86 L135.58,204.29 L136.61,205.72 L137.63,207.16 L138.66,208.60 L139.68,210.04 L140.69,211.49 L141.70,212.94 L142.71,214.39 L143.71,215.85 L144.71,217.31 L145.71,218.77 L146.70,220.23 L147.69,221.70 L148.67,223.17 L149.66,224.64 L150.64,226.12 L151.61,227.59 L152.59,229.07 L153.56,230.55 L154.53,232.04 L155.49,233.52 L156.46,235.01 L157.42,236.50 L158.37,237.99 L159.33,239.48 L160.28,240.98 L161.23,242.47 L162.18,243.97 L163.13,245.47 L164.07,246.97 L165.01,248.47 L165.95,249.97 L166.89,251.48 L167.83,252.98 L168.76,254.49 L169.70,256.00 L170.63,257.51 L171.56,259.02 L172.49,260.53 L173.42,262.04 L174.34,263.55 L175.27,265.06 L176.19,266.57 L177.11,268.09 L178.04,269.60 L178.96,271.11 L179.88,272.63 L180.80,274.14 L181.71,275.66 L182.63,277.17 L183.55,278.68 L184.47,280.20 L185.38,281.71 L186.30,283.23 L187.21,284.74 L188.12,286.26 L189.04,287.78 L189.95,289.29 L190.86,290.81 L191.78,292.32 L192.69,293.84 L193.60,295.35 L194.51,296.87 L195.43,298.38 L196.34,299.90 L197.25,301.41 L198.16,302.93 L199.08,304.44 L199.99,305.96 L200.90,307.47 L201.81,308.98 L202.73,310.50 L203.64,312.01 L204.56,313.52 L205.47,315.03 L206.39,316.55 L207.30,318.06 L208.22,319.57 L209.13,321.08 L210.05,322.59 L210.97,324.10 L211.89,325.61 L212.81,327.11 L213.73,328.62 L214.65,330.13 L215.57,331.63 L216.50,333.14 L217.42,334.65 L218.35,336.15 L219.28,337.65 L220.20,339.16 L221.13,340.66 L222.06,342.16 L223.00,343.66 L223.93,345.16 L224.87,346.66 L225.80,348.16 L226.74,349.65 L227.68,351.15 L228.62,352.64 L229.57,354.14 L230.51,355.63 L231.46,357.12 L232.41,358.61 L233.36,360.10 L234.31,361.59 L235.26,363.08 L236.22,364.56 L237.18,366.05 L238.14,367.53 L239.10,369.02 L240.07,370.50 L241.03,371.98 L242.00,373.46 L242.98,374.93 L243.95,376.41 L244.93,377.88 L245.91,379.36 L246.89,380.83 L247.87,382.30 L248.86,383.77 L249.85,385.23 L250.84,386.70 L251.84,388.16 L252.84,389.63 L253.84,391.09 L254.84,392.55 L255.85,394.01 L256.86,395.46 L257.87,396.92 L258.89,398.37 L259.91,399.82 L260.93,401.27 L261.96,402.72 L262.99,404.16 L264.02,405.60 L265.06,407.04 L266.10,408.48 L267.15,409.92 L268.20,411.34 L269.26,412.77 L270.32,414.19 L271.39,415.61 L272.47,417.02 L273.55,418.42 L274.64,419.82 L275.74,421.21 L276.85,422.59 L277.96,423.97 L279.08,425.34 L280.21,426.70 L281.35,428.05 L282.50,429.39 L283.66,430.72 L284.83,432.05 L286.01,433.36 L287.21,434.67 L288.41,435.96 L289.62,437.24 L290.85,438.51 L292.09,439.76 L293.34,441.01 L294.60,442.24 L295.88,443.46 L297.17,444.67 L298.47,445.86 L299.79,447.03 L301.13,448.19 L302.47,449.34 L303.84,450.47 L305.22,451.59 L306.61,452.69 L308.02,453.77 L309.45,454.83 L310.89,455.88 L312.35,456.90 L313.83,457.89 L315.33,458.85 L316.85,459.77 L318.39,460.66 L319.95,461.50 L321.52,462.30 L323.12,463.04 L324.75,463.74 L326.39,464.37 L328.05,464.94 L329.74,465.45 L331.45,465.90 L333.18,466.28 L334.92,466.59 L336.67,466.84 L338.43,467.02 L340.20,467.14 L341.97,467.19 L343.75,467.18 L345.52,467.10 L347.28,466.95 L349.04,466.74 L350.78,466.47 L352.51,466.13 L354.23,465.72 L355.92,465.24 L357.60,464.70 L359.25,464.10 L360.87,463.43 L362.47,462.70 L364.05,461.92 L365.61,461.09 L367.14,460.20 L368.64,459.26 L370.12,458.28 L371.58,457.26 L373.02,456.19 L374.43,455.09 L375.81,453.95 L377.18,452.78 L378.52,451.59 L379.83,450.36 L381.12,449.11 L382.39,447.84 L383.64,446.55 L384.86,445.25 L386.05,443.93 L387.23,442.60 L388.38,441.25 L389.52,439.89 L390.64,438.52 L391.73,437.14 L392.81,435.74 L393.88,434.34 L394.93,432.93 L395.96,431.51 L396.98,430.08 L397.99,428.64 L398.99,427.20 L399.98,425.74 L400.96,424.29 L401.93,422.83 L402.90,421.36 L403.86,419.89 L404.81,418.41 L405.75,416.93 L406.69,415.45 L407.62,413.96 L408.54,412.47 L409.46,410.97 L410.37,409.47 L411.27,407.96 L412.17,406.45 L413.06,404.94 L413.95,403.42 L414.83,401.90 L415.70,400.38 L416.57,398.85 L417.43,397.32 L418.29,395.78 L419.14,394.24 L419.98,392.70 L420.82,391.15 L421.66,389.60 L422.49,388.05 L423.31,386.49 L424.13,384.93 L424.94,383.37 L425.75,381.80 L426.55,380.23 L427.35,378.66 L428.14,377.09 L428.93,375.51 L429.71,373.93 L430.49,372.34 L431.27,370.76 L432.04,369.17 L432.80,367.57 L433.57,365.98 L434.32,364.38 L435.08,362.78 L435.83,361.18 L436.57,359.58 L437.31,357.97 L438.05,356.36 L438.78,354.75 L439.51,353.13 L440.24,351.52 L440.96,349.90 L441.68,348.28 L442.40,346.66 L443.11,345.03 L443.82,343.41 L444.52,341.78 L445.23,340.15 L445.93,338.52 L446.62,336.89 L447.32,335.25 L448.01,333.62 L448.70,331.98 L449.38,330.34 L450.07,328.70 L450.75,327.06 L451.43,325.41 L452.10,323.77 L452.78,322.12 L453.45,320.48 L454.12,318.83 L454.79,317.18 L455.45,315.53 L456.12,313.88 L456.78,312.23 L457.44,310.58 L458.10,308.92 L458.76,307.27 L459.41,305.62 L460.07,303.96 L460.72,302.31 L461.37,300.65 L462.02,298.99 L462.67,297.34 L463.32,295.68 L463.97,294.02 L464.62,292.37 L465.26,290.71 L465.91,289.05 L466.55,287.39 L467.20,285.73 L467.84,284.08 L468.49,282.42 L469.13,280.76 L469.77,279.10 L470.41,277.45 L471.06,275.79 L471.70,274.13 L472.34,272.48 L472.99,270.82 L473.63,269.17 L474.27,267.51 L474.91,265.86 L475.56,264.21 L476.20,262.55 L476.85,260.90 L477.49,259.25 L478.14,257.60 L478.79,255.95 L479.43,254.30 L480.08,252.65 L480.73,251.01 L481.38,249.36 L482.03,247.71 L482.69,246.07 L483.34,244.42 L483.99,242.78 L484.65,241.14 L485.31,239.50 L485.96,237.86 L486.62,236.22 L487.29,234.58 L487.95,232.94 L488.61,231.30 L489.28,229.67 L489.94,228.03 L490.61,226.40 L491.28,224.76 L491.96,223.13 L492.63,221.50 L493.31,219.87 L493.99,218.24 L494.67,216.61 L495.35,214.99 L496.03,213.36 L496.72,211.74 L497.41,210.11 L498.10,208.49 L498.79,206.87 L499.49,205.25 L500.19,203.63 L500.89,202.01 L501.59,200.40 L502.30,198.78 L503.01,197.17 L503.72,195.56 L504.44,193.95 L505.15,192.34 L505.88,190.73 L506.60,189.12 L507.33,187.52 L508.06,185.91 L508.79,184.31 L509.52,182.71 L510.26,181.11 L511.01,179.51 L511.75,177.91 L512.50,176.31 L513.25,174.72 L514.01,173.13 L514.77,171.53 L515.54,169.94 L516.30,168.36 L517.07,166.77 L517.85,165.18 L518.63,163.60 L519.41,162.02 L520.20,160.44 L520.99,158.86 L521.79,157.28 L522.58,155.71 L523.39,154.13 L524.20,152.56 L525.01,150.99 L525.82,149.42 L526.65,147.85 L527.47,146.29 L528.30,144.72 L529.14,143.16 L529.98,141.60 L530.82,140.04 L531.67,138.49 L532.52,136.93 L533.38,135.38 L534.24,133.83 L535.11,132.28 L535.99,130.73 L536.87,129.19 L537.75,127.65 L538.64,126.11 L539.54,124.58 L540.44,123.04 L541.35,121.52 L542.27,119.99 L543.20,118.48 L544.13,116.96 L545.07,115.45 L546.01,113.95 L546.97,112.45 L547.93,110.96 L548.90,109.48 L549.88,108.00 L550.87,106.53 L551.87,105.06 L552.87,103.60 L553.89,102.15 L554.92,100.71 L555.95,99.28 L557.00,97.85 L558.06,96.44 L559.13,95.03 L560.20,93.63 L561.29,92.24 L562.39,90.87 L563.51,89.50 L564.63,88.14 L565.77,86.80 L566.92,85.46 L568.08,84.14 L569.25,82.82 L570.44,81.52 L571.64,80.24 L572.85,78.96 L574.08,77.70 L575.32,76.45 L576.57,75.21 L577.84,73.99 L579.12,72.78 L580.42,71.59 L581.73,70.41 L583.06,69.24 L584.39,68.09 L585.75,66.95 L587.11,65.83 L588.49,64.72 L589.88,63.62 L591.28,62.54 L592.69,61.47 L594.11,60.42 L595.55,59.38 L597.00,58.35 L598.45,57.34 L599.92,56.34 L601.40,55.36 L602.89,54.39 L604.38,53.44 L605.89,52.50 L607.40,51.57 L608.93,50.66 L610.46,49.76 L612.00,48.87 L613.55,48.00 L615.11,47.15 L616.67,46.31 L618.24,45.48 L619.82,44.66 L621.41,43.87 L623.00,43.08 L624.59,42.31 L626.20,41.55 L627.81,40.81 L629.42,40.08 L631.04,39.37 L632.66,38.67 L634.29,37.98 L635.92,37.31 L637.56,36.65 L639.21,36.00 L640.85,35.37 L642.51,34.75 L644.16,34.14 L645.82,33.54 L647.49,32.96 L649.16,32.39 L650.83,31.83 L652.51,31.28 L654.19,30.75 L655.87,30.22 L657.56,29.71 L659.26,29.21 L660.95,28.72 L662.65,28.24 L664.35,27.77 L666.06,27.31 L667.77,26.86 L669.48,26.42 L671.19,25.99 L672.91,25.57 L674.63,25.16 L676.36,24.76 L678.08,24.37 L679.81,23.98 L681.54,23.61 L683.27,23.24 L685.01,22.89 L686.75,22.54 L688.49,22.20 L690.23,21.86 L691.97,21.54 L693.72,21.22 L695.46,20.91 L697.21,20.61 L698.96,20.31 L700.71,20.02"/>
</g>
<g fill="none" stroke-width="1.1">
<line stroke="#0000ff" x1="111.1" y1="113.8" x2="139.3" y2="100.7"/>
<line stroke="#008b00" x1="79.6" y1="142.5" x2="171.9" y2="135.0"/>
<line stroke="#ff0000" x1="96.1" y1="169.5" x2="186.4" y2="170.8"/>
<line stroke="#ffa500" x1="104.0" y1="186.6" x2="193.5" y2="203.5"/>
</g>
<g font-size="20.7">
<text x="139.6" y="103" fill="#0000ff">MRCI/XP</text>
<text x="175.2" y="144" fill="#008b00">MRCI/ED</text>
<text x="188.0" y="182" fill="#ff0000">CCSD(T)/ED</text>
<text x="194.2" y="212" fill="#ffa500">MRCI+Q/ED</text>
</g>
<g stroke="#000" stroke-width="1" fill="none">
<line x1="113.75" y1="498.6" x2="113.75" y2="486.10"/>
<line x1="113.75" y1="7.25" x2="113.75" y2="19.75"/>
<line x1="172.44" y1="498.6" x2="172.44" y2="492.40"/>
<line x1="172.44" y1="7.25" x2="172.44" y2="13.45"/>
<line x1="231.14" y1="498.6" x2="231.14" y2="486.10"/>
<line x1="231.14" y1="7.25" x2="231.14" y2="19.75"/>
<line x1="289.83" y1="498.6" x2="289.83" y2="492.40"/>
<line x1="289.83" y1="7.25" x2="289.83" y2="13.45"/>
<line x1="348.53" y1="498.6" x2="348.53" y2="486.10"/>
<line x1="348.53" y1="7.25" x2="348.53" y2="19.75"/>
<line x1="407.22" y1="498.6" x2="407.22" y2="492.40"/>
<line x1="407.22" y1="7.25" x2="407.22" y2="13.45"/>
<line x1="465.92" y1="498.6" x2="465.92" y2="486.10"/>
<line x1="465.92" y1="7.25" x2="465.92" y2="19.75"/>
<line x1="524.61" y1="498.6" x2="524.61" y2="492.40"/>
<line x1="524.61" y1="7.25" x2="524.61" y2="13.45"/>
<line x1="583.31" y1="498.6" x2="583.31" y2="486.10"/>
<line x1="583.31" y1="7.25" x2="583.31" y2="19.75"/>
<line x1="642.00" y1="498.6" x2="642.00" y2="492.40"/>
<line x1="642.00" y1="7.25" x2="642.00" y2="13.45"/>
<line x1="55.05" y1="21.29" x2="61.25" y2="21.29"/>
<line x1="700.7" y1="21.29" x2="694.50" y2="21.29"/>
<line x1="55.05" y1="35.33" x2="61.25" y2="35.33"/>
<line x1="700.7" y1="35.33" x2="694.50" y2="35.33"/>
<line x1="55.05" y1="49.37" x2="61.25" y2="49.37"/>
<line x1="700.7" y1="49.37" x2="694.50" y2="49.37"/>
<line x1="55.05" y1="63.40" x2="61.25" y2="63.40"/>
<line x1="700.7" y1="63.40" x2="694.50" y2="63.40"/>
<line x1="55.05" y1="77.44" x2="67.55" y2="77.44"/>
<line x1="700.7" y1="77.44" x2="688.20" y2="77.44"/>
<line x1="55.05" y1="91.48" x2="61.25" y2="91.48"/>
<line x1="700.7" y1="91.48" x2="694.50" y2="91.48"/>
<line x1="55.05" y1="105.52" x2="61.25" y2="105.52"/>
<line x1="700.7" y1="105.52" x2="694.50" y2="105.52"/>
<line x1="55.05" y1="119.56" x2="61.25" y2="119.56"/>
<line x1="700.7" y1="119.56" x2="694.50" y2="119.56"/>
<line x1="55.05" y1="133.60" x2="61.25" y2="133.60"/>
<line x1="700.7" y1="133.60" x2="694.50" y2="133.60"/>
<line x1="55.05" y1="147.64" x2="67.55" y2="147.64"/>
<line x1="700.7" y1="147.64" x2="688.20" y2="147.64"/>
<line x1="55.05" y1="161.67" x2="61.25" y2="161.67"/>
<line x1="700.7" y1="161.67" x2="694.50" y2="161.67"/>
<line x1="55.05" y1="175.71" x2="61.25" y2="175.71"/>
<line x1="700.7" y1="175.71" x2="694.50" y2="175.71"/>
<line x1="55.05" y1="189.75" x2="61.25" y2="189.75"/>
<line x1="700.7" y1="189.75" x2="694.50" y2="189.75"/>
<line x1="55.05" y1="203.79" x2="61.25" y2="203.79"/>
<line x1="700.7" y1="203.79" x2="694.50" y2="203.79"/>
<line x1="55.05" y1="217.83" x2="67.55" y2="217.83"/>
<line x1="700.7" y1="217.83" x2="688.20" y2="217.83"/>
<line x1="55.05" y1="231.87" x2="61.25" y2="231.87"/>
<line x1="700.7" y1="231.87" x2="694.50" y2="231.87"/>
<line x1="55.05" y1="245.91" x2="61.25" y2="245.91"/>
<line x1="700.7" y1="245.91" x2="694.50" y2="245.91"/>
<line x1="55.05" y1="259.94" x2="61.25" y2="259.94"/>
<line x1="700.7" y1="259.94" x2="694.50" y2="259.94"/>
<line x1="55.05" y1="273.98" x2="61.25" y2="273.98"/>
<line x1="700.7" y1="273.98" x2="694.50" y2="273.98"/>
<line x1="55.05" y1="288.02" x2="67.55" y2="288.02"/>
<line x1="700.7" y1="288.02" x2="688.20" y2="288.02"/>
<line x1="55.05" y1="302.06" x2="61.25" y2="302.06"/>
<line x1="700.7" y1="302.06" x2="694.50" y2="302.06"/>
<line x1="55.05" y1="316.10" x2="61.25" y2="316.10"/>
<line x1="700.7" y1="316.10" x2="694.50" y2="316.10"/>
<line x1="55.05" y1="330.14" x2="61.25" y2="330.14"/>
<line x1="700.7" y1="330.14" x2="694.50" y2="330.14"/>
<line x1="55.05" y1="344.18" x2="61.25" y2="344.18"/>
<line x1="700.7" y1="344.18" x2="694.50" y2="344.18"/>
<line x1="55.05" y1="358.21" x2="67.55" y2="358.21"/>
<line x1="700.7" y1="358.21" x2="688.20" y2="358.21"/>
<line x1="55.05" y1="372.25" x2="61.25" y2="372.25"/>
<line x1="700.7" y1="372.25" x2="694.50" y2="372.25"/>
<line x1="55.05" y1="386.29" x2="61.25" y2="386.29"/>
<line x1="700.7" y1="386.29" x2="694.50" y2="386.29"/>
<line x1="55.05" y1="400.33" x2="61.25" y2="400.33"/>
<line x1="700.7" y1="400.33" x2="694.50" y2="400.33"/>
<line x1="55.05" y1="414.37" x2="61.25" y2="414.37"/>
<line x1="700.7" y1="414.37" x2="694.50" y2="414.37"/>
<line x1="55.05" y1="428.41" x2="67.55" y2="428.41"/>
<line x1="700.7" y1="428.41" x2="688.20" y2="428.41"/>
<line x1="55.05" y1="442.45" x2="61.25" y2="442.45"/>
<line x1="700.7" y1="442.45" x2="694.50" y2="442.45"/>
<line x1="55.05" y1="456.48" x2="61.25" y2="456.48"/>
<line x1="700.7" y1="456.48" x2="694.50" y2="456.48"/>
<line x1="55.05" y1="470.52" x2="61.25" y2="470.52"/>
<line x1="700.7" y1="470.52" x2="694.50" y2="470.52"/>
<line x1="55.05" y1="484.56" x2="61.25" y2="484.56"/>
<line x1="700.7" y1="484.56" x2="694.50" y2="484.56"/>
</g>
<g stroke="#000" fill="none" stroke-linecap="butt">
<line x1="55.05" y1="6.55" x2="55.05" y2="499.25" stroke-width="1.15"/>
<line x1="54.48" y1="7.25" x2="701.4000000000001" y2="7.25" stroke-width="1.35"/>
<line x1="700.7" y1="6.55" x2="700.7" y2="499.25" stroke-width="1.4"/>
<line x1="54.48" y1="498.6" x2="701.4000000000001" y2="498.6" stroke-width="1.3"/>
</g>
<g fill="#000">
<text transform="translate(114.25,516.9) rotate(0.03) scale(0.95,1)" text-anchor="middle" font-size="17.6">3</text>
<text transform="translate(231.64,516.9) rotate(0.03) scale(0.95,1)" text-anchor="middle" font-size="17.6">4</text>
<text transform="translate(349.03,516.9) rotate(0.03) scale(0.95,1)" text-anchor="middle" font-size="17.6">5</text>
<text transform="translate(466.42,516.9) rotate(0.03) scale(0.95,1)" text-anchor="middle" font-size="17.6">6</text>
<text transform="translate(583.81,516.9) rotate(0.03) scale(0.95,1)" text-anchor="middle" font-size="17.6">7</text>
<text transform="translate(701.20,516.9) rotate(0.03) scale(0.95,1)" text-anchor="middle" font-size="17.6">8</text>
<text transform="translate(49.6,13.15) rotate(0.03) scale(0.95,1)" text-anchor="end" font-size="17.6">0</text>
<text transform="translate(49.6,83.34) rotate(0.03) scale(0.95,1)" text-anchor="end" font-size="17.6">-0.5</text>
<text transform="translate(49.6,153.54) rotate(0.03) scale(0.95,1)" text-anchor="end" font-size="17.6">-1</text>
<text transform="translate(49.6,223.73) rotate(0.03) scale(0.95,1)" text-anchor="end" font-size="17.6">-1.5</text>
<text transform="translate(49.6,293.92) rotate(0.03) scale(0.95,1)" text-anchor="end" font-size="17.6">-2</text>
<text transform="translate(49.6,364.11) rotate(0.03) scale(0.95,1)" text-anchor="end" font-size="17.6">-2.5</text>
<text transform="translate(49.6,434.31) rotate(0.03) scale(0.95,1)" text-anchor="end" font-size="17.6">-3</text>
<text transform="translate(49.6,504.50) rotate(0.03) scale(0.95,1)" text-anchor="end" font-size="17.6">-3.5</text>
<text x="377.88" y="534.5" text-anchor="middle" font-size="17.15">bond length in bohrs</text>
<text transform="translate(13.5,252.93) rotate(-90)" text-anchor="middle" font-size="17.3">dipoles in debyes</text>
</g>
</svg>
</body></html>
